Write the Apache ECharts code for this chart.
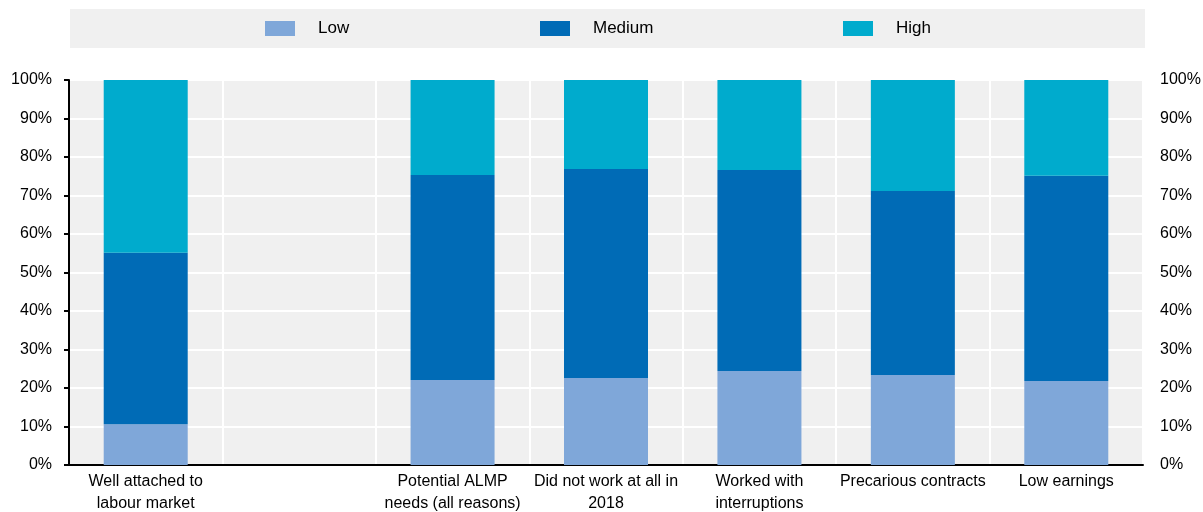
<!DOCTYPE html>
<html>
<head>
<meta charset="utf-8">
<script src="https://cdn.jsdelivr.net/npm/echarts@6/dist/echarts.min.js"></script>
<style>html,body{margin:0;padding:0;background:#fff}#c{width:1203px;height:512px}</style>
</head>
<body>
<div id="c"></div>
<script>
const categories = ['Well attached to\nlabour market', '', 'Potential ALMP\nneeds (all reasons)', 'Did not work at all in\n2018', 'Worked with\ninterruptions', 'Precarious contracts', 'Low earnings'];
const lowValues = [10.6, null, 22.1, 22.6, 24.4, 23.4, 21.8];
const mediumValues = [44.5, null, 53.2, 54.3, 52.2, 47.8, 53.3];
const highValues = [44.9, null, 24.7, 23.1, 23.4, 28.8, 24.9];
const seriesNames = ['Low', 'Medium', 'High'];
const colors = ['#7FA7D9', '#006BB6', '#00ABCD'];

const chart = echarts.init(document.getElementById('c'));
const font = 'Liberation Sans, Arial, sans-serif';
const legendLefts = [265, 540, 843];
const yAxisBase = {
  type: 'value', min: 0, max: 100, interval: 10,
  axisLabel: { formatter: '{value}%', color: '#000', fontFamily: font, fontSize: 16 },
  splitLine: { show: true, lineStyle: { color: '#fff', width: 2 } }
};
chart.setOption({
  animation: false,
  textStyle: { fontFamily: font },
  graphic: [{ type: 'rect', left: 70, top: 9, shape: { width: 1075, height: 39 }, style: { fill: '#f0f0f0' }, z: -1 }],
  legend: seriesNames.map((n, i) => ({
    left: legendLefts[i], top: 16, padding: 0, itemWidth: 30, itemHeight: 15,
    icon: 'rect',
    textStyle: { color: '#000', fontSize: 17, fontFamily: font, padding: [0, 0, 0, 18], height: 25, lineHeight: 25 },
    data: [n]
  })),
  grid: { left: 69, right: 60, top: 80, bottom: 47, show: true, backgroundColor: '#f0f0f0', borderWidth: 0, outerBoundsMode: 'none', containLabel: false },
  xAxis: {
    type: 'category', data: categories,
    axisLine: { lineStyle: { color: '#000', width: 2 } },
    axisTick: { show: false },
    axisLabel: { interval: 0, color: '#000', fontSize: 16, fontFamily: font, lineHeight: 22, margin: 6 },
    splitLine: { show: true, interval: 0, lineStyle: { color: '#fff', width: 2 } }
  },
  yAxis: [
    Object.assign({}, yAxisBase, {
      position: 'left',
      axisLine: { show: true, lineStyle: { color: '#000', width: 2 } },
      axisTick: { show: true, length: 5, lineStyle: { color: '#000', width: 2 } },
      axisLabel: Object.assign({}, yAxisBase.axisLabel, { margin: 17 })
    }),
    Object.assign({}, yAxisBase, {
      position: 'right',
      axisLine: { show: false }, axisTick: { show: false },
      splitLine: { show: false },
      axisLabel: Object.assign({}, yAxisBase.axisLabel, { margin: 17 })
    })
  ],
  series: [lowValues, mediumValues, highValues].map((d, i) => ({
    name: seriesNames[i], type: 'bar', stack: 'total', data: d,
    barWidth: 84, itemStyle: { color: colors[i] }
  }))
});
</script>
</body>
</html>
